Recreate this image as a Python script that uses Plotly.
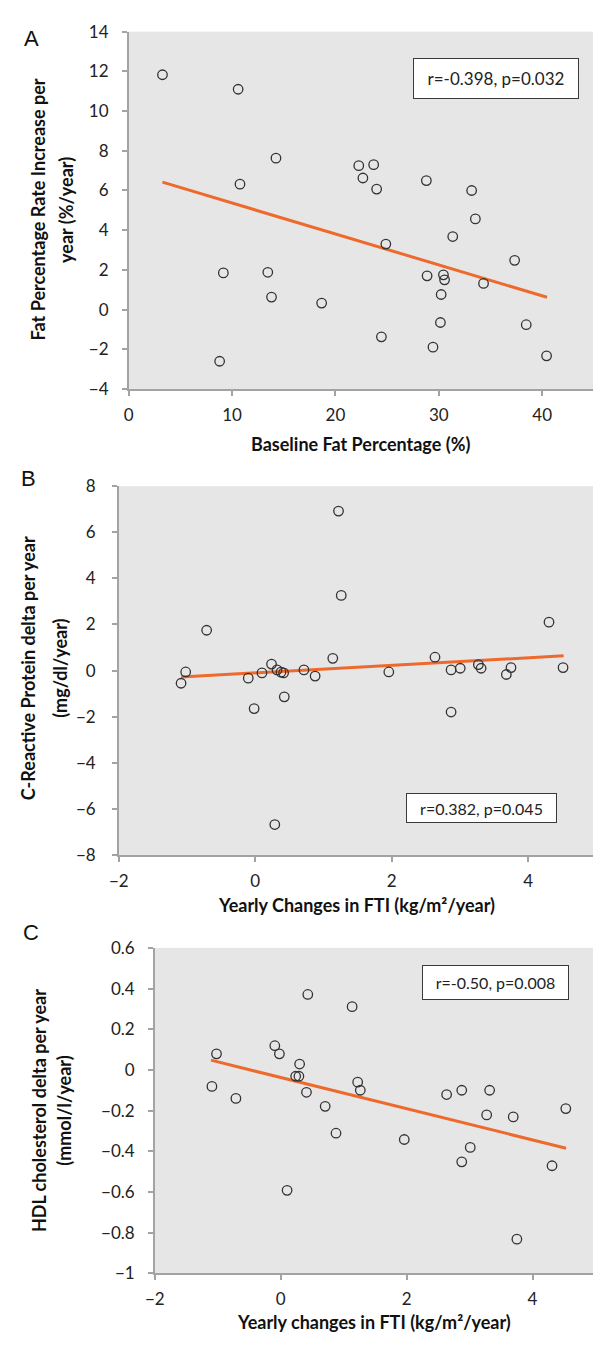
import plotly.graph_objects as go

W, H = 593, 1349

# ---------------- data ----------------
# Panel A
a_x = [3.27, 10.59, 14.25, 10.77, 22.26, 23.7, 22.66, 23.99, 28.8, 33.18, 33.54, 31.35, 24.88,
       37.34, 9.16, 13.46, 28.87, 30.45, 30.56, 34.33, 13.82, 18.67, 30.23, 30.16, 38.46, 24.45,
       29.44, 40.43, 8.8]
a_y = [11.83, 11.1, 7.63, 6.32, 7.25, 7.3, 6.63, 6.07, 6.5, 6.0, 4.57, 3.68, 3.3,
       2.48, 1.85, 1.88, 1.7, 1.75, 1.5, 1.32, 0.63, 0.33, 0.76, -0.65, -0.76, -1.37,
       -1.89, -2.33, -2.6]
a_trend_x = [3.27, 40.47]
a_trend_y = [6.42, 0.62]

# Panel B
b_x = [1.22, 1.26, -0.713, 4.305, -1.088, -1.02, -0.103, -0.017, 0.098, 0.238, 0.319, 0.377,
       0.415, 0.425, 0.286, 0.713, 0.877, 1.136, 1.957, 2.634, 2.87, 2.87, 3.004, 3.27, 3.31,
       3.68, 3.748, 4.511]
b_y = [6.92, 3.26, 1.75, 2.1, -0.55, -0.06, -0.33, -1.65, -0.1, 0.28, 0.03, -0.07,
       -0.1, -1.14, -6.68, 0.03, -0.24, 0.53, -0.06, 0.58, 0.03, -1.8, 0.1, 0.26, 0.1,
       -0.17, 0.13, 0.13]
b_trend_x = [-1.088, 4.52]
b_trend_y = [-0.28, 0.64]

# Panel C
c_x = [-1.093, -1.02, -0.712, -0.094, -0.021, 0.101, 0.237, 0.289, 0.3, 0.409, 0.43, 0.706,
       0.878, 1.134, 1.222, 1.264, 1.962, 2.635, 2.875, 2.875, 3.01, 3.271, 3.318, 3.693,
       3.751, 4.309, 4.528]
c_y = [-0.081, 0.079, -0.14, 0.119, 0.079, -0.592, -0.031, -0.031, 0.029, -0.11, 0.371, -0.179,
       -0.311, 0.311, -0.06, -0.1, -0.342, -0.121, -0.1, -0.452, -0.381, -0.221, -0.1, -0.231,
       -0.832, -0.471, -0.19]
c_trend_x = [-1.108, 4.533]
c_trend_y = [0.048, -0.385]

stats_text = ["r=-0.398, p=0.032", "r=0.382, p=0.045", "r=-0.50, p=0.008"]
panel_letters = ["A", "B", "C"]
x_titles = ["Baseline Fat Percentage (%)",
            "Yearly Changes in FTI (kg/m²/year)",
            "Yearly changes in FTI (kg/m²/year)"]
y_titles = [["Fat Percentage Rate Increase per", "year (%/year)"],
            ["C-Reactive Protein delta per year", "(mg/dl/year)"],
            ["HDL cholesterol delta per year", "(mmol/l/year)"]]

# ---------------- styling / layout ----------------
BG = "#e6e6e6"
AXC = "#a3a3a3"
TXT = "#222222"
ORANGE = "#EE6A2C"
FONT = "Lato"

# plot area pixel boxes: left, top, bottom (right is figure edge)
boxes = [(120.7, 21.0, 384.0), (110.7, 482.7, 857.3), (147.3, 951.7, 1282.3)]
x_ranges = [[0, 44.92], [-2, 4.95], [-2, 4.96]]
y_ranges = [[-4, 14], [-8, 8], [-1, 0.6]]
x_dticks = [10, 2, 2]
y_dticks = [2, 2, 0.2]
ylab_stand = [10, 13, 10]

def px(x):
    return x / W

def py(y):
    return 1 - y / H

fig = go.Figure()
data = [(a_x, a_y, a_trend_x, a_trend_y), (b_x, b_y, b_trend_x, b_trend_y),
        (c_x, c_y, c_trend_x, c_trend_y)]

layout = dict(width=W, height=H, margin=dict(l=0, r=0, t=0, b=0),
              paper_bgcolor="white", plot_bgcolor=BG, showlegend=False)

for i, (xs, ys, tx, ty) in enumerate(data):
    n = "" if i == 0 else str(i + 1)
    xa, ya = "x" + n, "y" + n
    fig.add_trace(go.Scatter(x=tx, y=ty, mode="lines", xaxis=xa, yaxis=ya,
                             line=dict(color=ORANGE, width=3)))
    fig.add_trace(go.Scatter(x=xs, y=ys, mode="markers", xaxis=xa, yaxis=ya,
                             marker=dict(symbol="circle", size=9.5, color="rgba(0,0,0,0)",
                                         line=dict(color="#333333", width=1.3))))
    left, top, bottom = boxes[i]
    common = dict(showline=True, linecolor=AXC, linewidth=1.5, ticks="outside", ticklen=5,
                  tickcolor=AXC, tickwidth=1.5, showgrid=False, zeroline=False,
                  tickfont=dict(family=FONT, size=17, color=TXT), fixedrange=True)
    layout["xaxis" + n] = dict(common, domain=[px(left), 1], range=x_ranges[i],
                               anchor=ya, tick0=0, dtick=x_dticks[i], ticklabelstandoff=5)
    layout["yaxis" + n] = dict(common, domain=[py(bottom), py(top)], range=y_ranges[i],
                               anchor=xa, tick0=0, dtick=y_dticks[i],
                               ticklabelstandoff=ylab_stand[i])

annotations = []
# stats boxes: left, top, width, height, font size
stat_boxes = [(410, 48, 166, 41, 17), (403, 794, 151, 30, 16), (419, 969, 147, 35, 16)]
for txt, (l, t, w, h, fs) in zip(stats_text, stat_boxes):
    annotations.append(dict(text=txt, xref="paper", yref="paper", x=px(l), y=py(t),
                            xanchor="left", yanchor="top", showarrow=False,
                            width=w - 2, height=h - 2, align="center", valign="middle",
                            bgcolor="white", bordercolor="#3a3a3a", borderwidth=1, borderpad=0,
                            font=dict(family=FONT, size=fs, color="#222")))
# panel letters
letter_pos = [(22, 28), (19, 475), (21, 936)]
for L, (x, y) in zip(panel_letters, letter_pos):
    annotations.append(dict(text=L, xref="paper", yref="paper", x=px(x), y=py(y),
                            xanchor="center", yanchor="middle", showarrow=False,
                            font=dict(family="Liberation Sans", size=22, color="#111")))
# x titles
xt_pos = [(357, 440), (352, 908), (370, 1332)]
for t, (x, y) in zip(x_titles, xt_pos):
    annotations.append(dict(text="<b>" + t + "</b>", xref="paper", yref="paper", x=px(x), y=py(y),
                            xanchor="center", yanchor="middle", showarrow=False,
                            font=dict(family=FONT, size=18, color="#111")))
# y titles (two lines each)
yt_pos = [((28, 57), 202), ((18, 50), 668), ((29, 55), 1117)]
for lines, ((x1, x2), yc) in zip(y_titles, yt_pos):
    for line, xx in zip(lines, (x1, x2)):
        annotations.append(dict(text="<b>" + line + "</b>", xref="paper", yref="paper",
                                x=px(xx), y=py(yc), xanchor="center", yanchor="middle",
                                textangle=-90, showarrow=False,
                                font=dict(family=FONT, size=18, color="#111")))

layout["annotations"] = annotations
fig.update_layout(**layout)
fig.write_html("out.html")
